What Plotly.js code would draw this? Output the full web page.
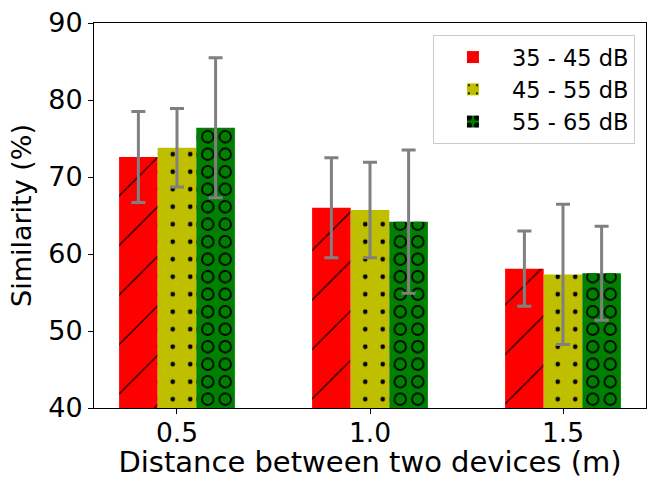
<!DOCTYPE html>
<html>
<head>
<meta charset="utf-8">
<script src="https://cdn.plot.ly/plotly-3.0.1.min.js"></script>
<style>html,body{margin:0;padding:0;background:#fff;}#chart{width:649px;height:479px;}</style>
</head>
<body>
<div id="chart"></div>
<script>
const distances = [0.5, 1.0, 1.5];
const tickLabels = ['0.5', '1.0', '1.5'];
const seriesNames = ['35 - 45 dB', '45 - 55 dB', '55 - 65 dB'];
const low = [72.6, 66.0, 58.1];
const lowErr = [5.9, 6.5, 4.9];
const mid = [73.8, 65.7, 57.35];
const midErr = [5.1, 6.2, 9.1];
const high = [76.4, 64.2, 57.5];
const highErr = [9.1, 9.3, 6.1];

const font = 'DejaVu Sans, sans-serif';
const errStyle = (arr) => ({type: 'data', array: arr, visible: true, color: '#808080', thickness: 3, width: 7});

const traces = [
  {
    type: 'bar', x: distances, y: low, name: seriesNames[0], legendgroup: 'a',
    offset: -0.15, width: 0.1,
    marker: {color: '#ff0000', line: {width: 0},
      pattern: {shape: '/', fillmode: 'overlay', fgcolor: '#000000', fgopacity: 1, size: 35, solidity: 0.035}},
    error_y: errStyle(lowErr)
  },
  {
    type: 'bar', x: distances, y: mid, name: seriesNames[1], legendgroup: 'b',
    offset: -0.05, width: 0.1,
    marker: {color: '#bfbf00', line: {width: 0},
      pattern: {shape: '.', fillmode: 'overlay', fgcolor: '#000000', fgopacity: 1, size: 17.5, solidity: 0.055}},
    error_y: errStyle(midErr)
  },
  {
    type: 'bar', x: distances, y: high, name: seriesNames[2], legendgroup: 'c',
    offset: 0.05, width: 0.1,
    marker: {color: '#008000', line: {width: 0},
      pattern: {shape: '.', fillmode: 'overlay', fgcolor: '#000000', fgopacity: 1, size: 17.5, solidity: 0.46}}
  },
  {
    type: 'bar', x: distances, y: high, name: seriesNames[2], legendgroup: 'c', showlegend: false,
    offset: 0.05, width: 0.1,
    marker: {color: '#008000', line: {width: 0},
      pattern: {shape: '.', fillmode: 'replace', fgcolor: '#008000', fgopacity: 1, size: 17.5, solidity: 0.25}},
    error_y: errStyle(highErr)
  }
];

const layout = {
  width: 649, height: 479,
  margin: {l: 94, r: 3, t: 23, b: 71, pad: 0},
  paper_bgcolor: '#ffffff', plot_bgcolor: '#ffffff',
  barmode: 'overlay',
  font: {family: font, color: '#000000'},
  showlegend: true,
  legend: {
    x: 0.98, xanchor: 'right', y: 0.969, yanchor: 'top',
    bgcolor: 'rgba(255,255,255,0.8)', bordercolor: '#cccccc', borderwidth: 1,
    font: {family: font, size: 22.5, color: '#000000'},
    traceorder: 'grouped', tracegroupgap: 0, itemwidth: 68
  },
  xaxis: {
    type: 'linear', range: [0.285, 1.715],
    tickvals: distances, ticktext: tickLabels,
    ticks: 'outside', ticklen: 5, tickwidth: 1, tickcolor: '#000000',
    ticklabelstandoff: -4,
    showline: true, linecolor: '#000000', linewidth: 1, mirror: true,
    showgrid: false, zeroline: false,
    tickfont: {family: font, size: 26.5},
    title: {text: 'Distance between two devices (m)', font: {family: font, size: 29}, standoff: 9}
  },
  yaxis: {
    range: [40, 90], tickvals: [40, 50, 60, 70, 80, 90],
    ticks: 'outside', ticklen: 5, tickwidth: 1, tickcolor: '#000000',
    showline: true, linecolor: '#000000', linewidth: 1, mirror: true,
    showgrid: false, zeroline: false,
    tickfont: {family: font, size: 27},
    title: {text: 'Similarity (%)', font: {family: font, size: 27}, standoff: 8}
  }
};

Plotly.newPlot('chart', traces, layout, {displayModeBar: false, staticPlot: true});
</script>
</body>
</html>
